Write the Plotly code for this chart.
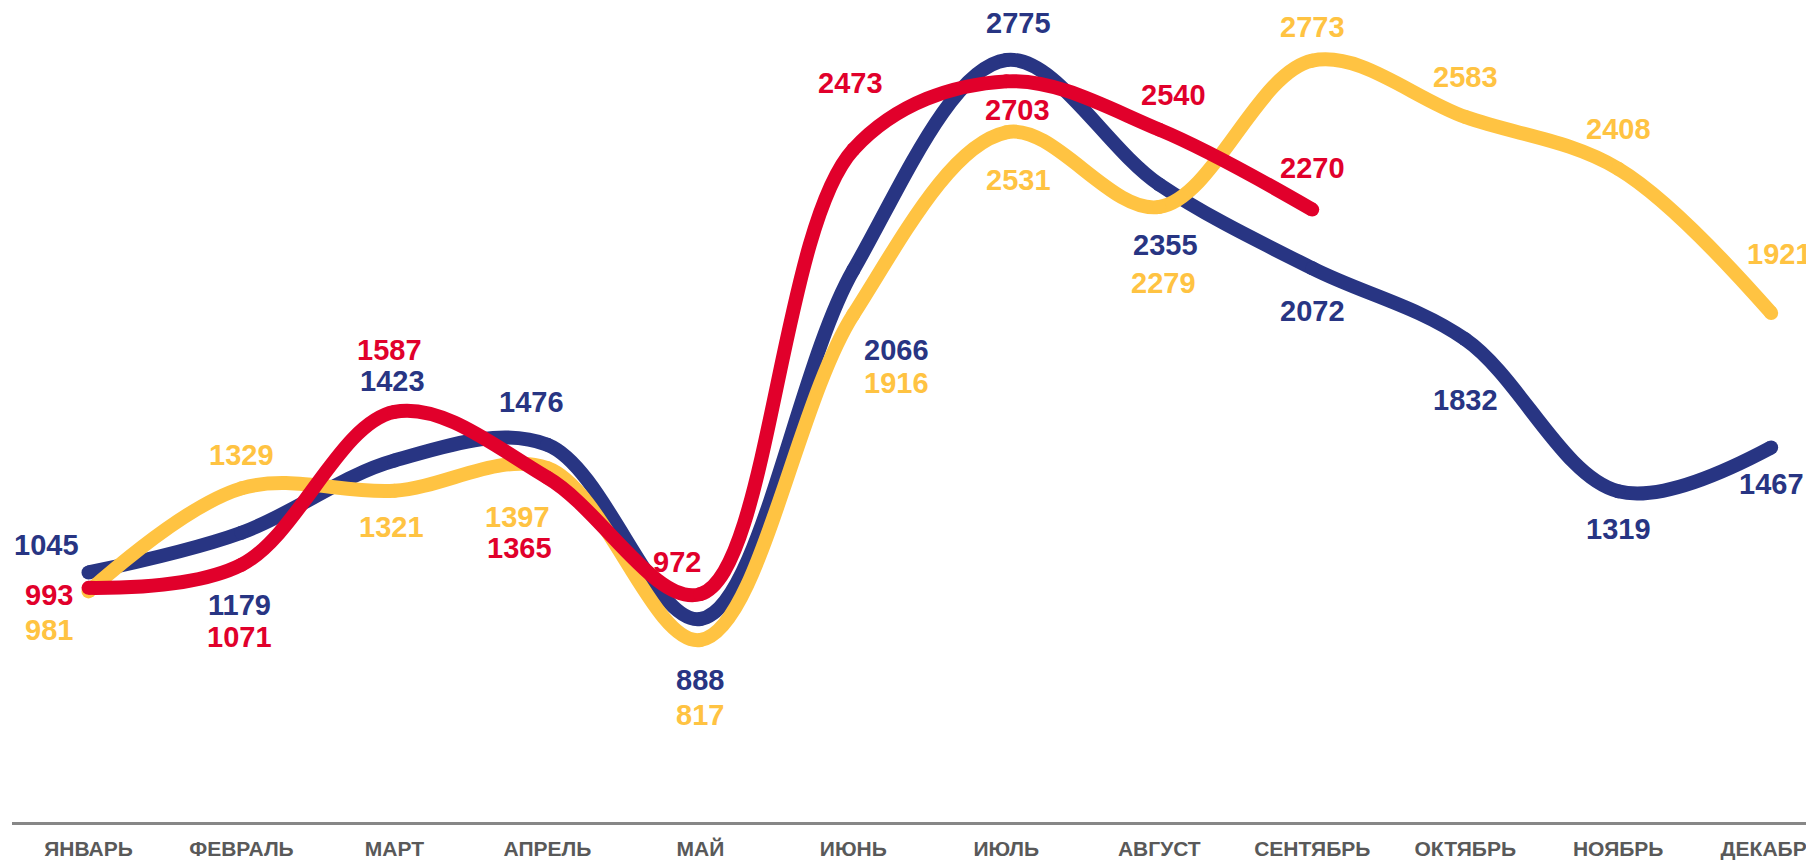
import plotly.graph_objects as go

months = ["ЯНВАРЬ", "ФЕВРАЛЬ", "МАРТ", "АПРЕЛЬ", "МАЙ", "ИЮНЬ",
          "ИЮЛЬ", "АВГУСТ", "СЕНТЯБРЬ", "ОКТЯБРЬ", "НОЯБРЬ", "ДЕКАБРЬ"]

blue_vals = [1045, 1179, 1423, 1476, 888, 2066, 2775, 2355, 2072, 1832, 1319, 1467]
yellow_vals = [981, 1329, 1321, 1397, 817, 1916, 2531, 2279, 2773, 2583, 2408, 1921]
red_vals = [993, 1071, 1587, 1365, 972, 2473, 2703, 2540, 2270]

BLUE = "#283583"
YELLOW = "#FFC342"
RED = "#E1002B"

# label offsets in pixels (dx right, dy down) relative to each point
blue_off = [(-42, -27), (-2, 72), (-2, -80), (-16, -43), (0, 61), (43, 80),
            (12, -37), (6, 61), (0, 43), (0, 61), (0, 38), (0, 37)]
yellow_off = [(-39, 39), (0, -33), (-3, 36), (-30, 49), (0, 75), (43, 69),
              (12, 48), (4, 76), (0, -34), (0, -40), (0, -40), (8, -59)]
red_off = [(-39, 7), (-2, 72), (-5, -62), (-28, 70), (-23, -32), (-3, -66),
           (11, 29), (14, -35), (0, -42)]

LW = 14
FONT = "Liberation Sans, Arial, sans-serif"

fig = go.Figure()
series = [(blue_vals, BLUE, blue_off), (yellow_vals, YELLOW, yellow_off), (red_vals, RED, red_off)]
for vals, col, _ in series:
    fig.add_trace(go.Scatter(
        x=list(range(len(vals))), y=vals, mode="lines+markers",
        line=dict(color=col, width=LW, shape="spline", smoothing=1.0),
        marker=dict(color=col, size=LW, line=dict(width=0)),
        hoverinfo="skip", showlegend=False, cliponaxis=False,
    ))

annotations = []
for vals, col, offs in series:
    for i, v in enumerate(vals):
        dx, dy = offs[i]
        annotations.append(dict(
            x=i, y=v, xref="x", yref="y", text=f"<b>{v}</b>", showarrow=False,
            xshift=dx, yshift=-dy, font=dict(family=FONT, size=29, color=col),
            xanchor="center", yanchor="middle",
        ))

fig.update_layout(
    width=1806, height=852,
    margin=dict(l=4, r=0, t=0, b=38),
    paper_bgcolor="white", plot_bgcolor="white",
    annotations=annotations,
    xaxis=dict(
        range=[-0.5, 11.28], tickmode="array", tickvals=list(range(12)),
        ticktext=[f"<b>{m}</b>" for m in months],
        showgrid=False, zeroline=False, showline=True, linecolor="#878787", linewidth=3,
        ticks="outside", ticklen=6, tickcolor="rgba(0,0,0,0)", tickangle=0,
        ticklabeloverflow="allow",
        tickfont=dict(family=FONT, size=21, color="#595959"),
        automargin=False, fixedrange=True,
    ),
    yaxis=dict(range=[202.5, 2950.7], visible=False, showgrid=False, zeroline=False, fixedrange=True),
    showlegend=False,
)

fig.write_html("out.html")
